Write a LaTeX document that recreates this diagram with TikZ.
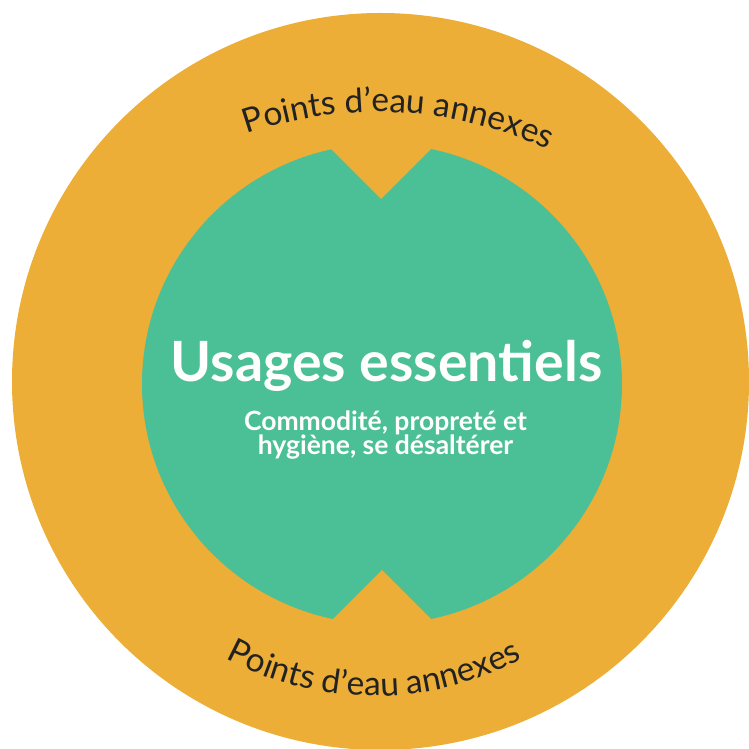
\documentclass[tikz,border=0pt]{standalone}
\usepackage{fontspec}
\setmainfont{Lato}
\usepackage{tikz}
\usetikzlibrary{decorations.text,positioning}
\definecolor{ringorange}{RGB}{236,174,54}
\definecolor{coregreen}{RGB}{75,191,150}
\definecolor{labeldark}{RGB}{34,34,34}

\begin{document}
\begin{tikzpicture}[
    x=1pt, y=1pt,
    every node/.style={inner sep=0pt, align=center},
    titletext/.style={font=\fontsize{55.5}{64}\selectfont\bfseries, text=white},
    subtext/.style={font=\fontsize{26.5}{30}\selectfont\bfseries, text=white},
    ringtext/.style={decorate, decoration={text along path, text align=center, text color=labeldark,
        text={|\fontsize{33.5}{40}\selectfont|Points d’eau annexes}}}
]
\useasboundingbox (0,0) rectangle (749,748);

% outer ring, cut by the page edges
\begin{scope}
  \clip (0,0) rectangle (749,748);
  \fill[ringorange] (380.5,366.5) circle[radius=368.5];
\end{scope}

% inner disc with its two notches
\fill[coregreen] (382,364) circle[radius=240];
\fill[ringorange] (381,549) -- (301,629) -- (461,629) -- cycle;
\fill[ringorange] (382,178) -- (302,98) -- (462,98) -- cycle;

\node[titletext, anchor=base] (usages) at (386.5,367) {Usages essentiels};
\node[subtext, anchor=base] (subline1) at (385.5,318) {Commodité, propreté et};
\node[subtext, anchor=base] (subline2) at (385.5,294) {hygiène, se désaltérer};

% curved labels in the ring
\path[ringtext] (378,236) ++(118:400) arc[start angle=118, end angle=56, radius=400];
\path[ringtext] (374,365) ++(232:313) arc[start angle=232, end angle=308, radius=313];

\end{tikzpicture}
\end{document}
